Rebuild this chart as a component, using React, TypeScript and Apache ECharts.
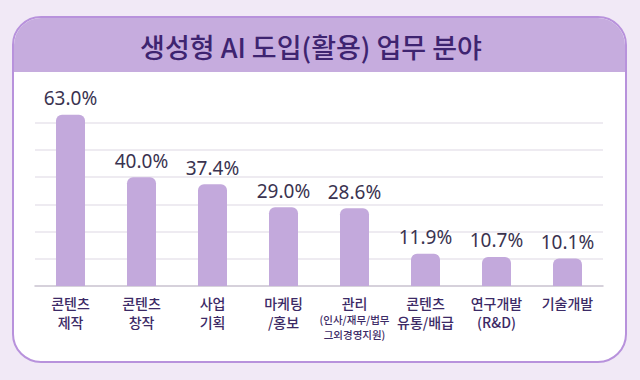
import React, { useEffect, useRef } from "react";
import * as echarts from "echarts";

const categories = [
  "콘텐츠\n제작",
  "콘텐츠\n창작",
  "사업\n기획",
  "마케팅\n/홍보",
  "관리",
  "콘텐츠\n유통/배급",
  "연구개발\n(R&D)",
  "기술개발",
];
const values = [63.0, 40.0, 37.4, 29.0, 28.6, 11.9, 10.7, 10.1];
const title = "생성형 AI 도입(활용) 업무 분야";
const subNote = "(인사/재무/법무\n그외경영지원)";

const FONT = "'Noto Sans CJK KR', 'Noto Sans', sans-serif";

export default function App() {
  const ref = useRef<HTMLDivElement>(null);
  useEffect(() => {
    if (!ref.current) return;
    const chart = echarts.init(ref.current, undefined, { renderer: "svg" });
    chart.setOption({
      animation: false,
      backgroundColor: "#f1e9f6",
      graphic: [
        {
          type: "rect",
          z: -10,
          shape: { x: 13, y: 17, width: 613, height: 345, r: 28 },
          style: { fill: "#ffffff", stroke: "#b892dc", lineWidth: 2 },
        },
        {
          type: "rect",
          z: -9,
          shape: { x: 14, y: 18, width: 611, height: 54, r: [27, 27, 0, 0] },
          style: { fill: "#c6acde" },
        },
        {
          type: "text",
          z: 10,
          x: 311,
          y: 46,
          style: {
            text: title,
            fontFamily: FONT,
            fontSize: 27,
            fontWeight: 500,
            fill: "#3e2470",
            align: "center",
            verticalAlign: "middle",
          },
        },
      ],
      grid: { left: 35, right: 37, top: 106.5, bottom: 94 },
      xAxis: {
        type: "category",
        data: categories,
        axisTick: { show: false },
        axisLine: { lineStyle: { color: "#c9c2cf", width: 1.5 } },
        axisLabel: {
          margin: 7,
          interval: 0,
          fontFamily: FONT,
          fontSize: 14,
          fontWeight: 500,
          lineHeight: 19.5,
          color: "#3c2a66",
          formatter: (v: string) =>
            v === "관리" ? "{a|관리}\n{s|" + subNote.split("\n").join("}\n{s|") + "}" : v,
          rich: {
            a: { fontFamily: FONT, fontSize: 14, fontWeight: 500, lineHeight: 19.5, color: "#3c2a66" },
            s: { fontFamily: FONT, fontSize: 10.5, fontWeight: 500, lineHeight: 14.5, color: "#3c2a66" },
          },
        },
      },
      yAxis: {
        type: "value",
        min: 0,
        max: 66,
        interval: 10,
        axisLabel: { show: false },
        axisLine: { show: false },
        axisTick: { show: false },
        splitLine: {
          show: true,
          showMaxLine: false,
          showMinLine: false,
          lineStyle: { color: "#e9e5ed", width: 1.5 },
        },
      },
      series: [
        {
          type: "bar",
          data: values,
          barWidth: 29,
          itemStyle: { color: "#c3a9dc", borderRadius: [6, 6, 0, 0] },
          label: {
            show: true,
            position: "top",
            distance: 7,
            formatter: (p: any) => p.value.toFixed(1) + "%",
            fontFamily: "'Noto Sans', sans-serif",
            fontSize: 19,
            color: "#3a3350",
          },
        },
      ],
    });
    return () => chart.dispose();
  }, []);
  return <div ref={ref} style={{ width: 640, height: 380, position: "absolute", left: 0, top: 0 }} />;
}
